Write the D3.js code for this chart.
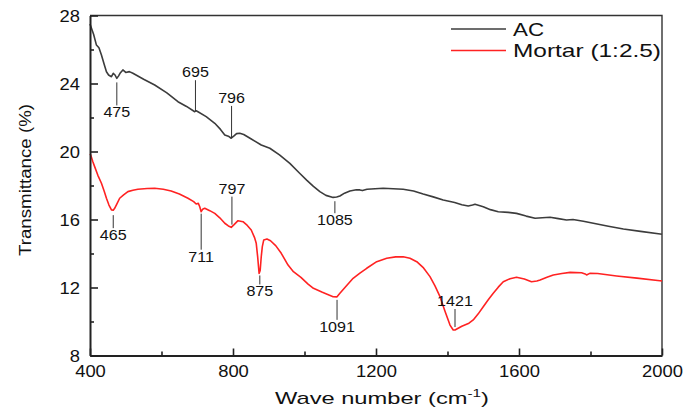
<!DOCTYPE html>
<html>
<head>
<meta charset="utf-8">
<script src="https://cdn.jsdelivr.net/npm/d3@7"></script>
<style>
  body { margin: 0; background: #fff; }
  svg { display: block; font-family: "Liberation Sans", Arial, sans-serif; }
</style>
</head>
<body>
<div id="chart"></div>
<script>
// FTIR spectra
var waveAC = [400,410,418,425,432,440,446,452,460,465,470,475,480,484,492,500,510,520,550,581,615,646,670,693,697,702,725,749,765,777,787,795,802,810,819,830,850,879,903,930,959,985,1006,1025,1043,1060,1080,1090,1099,1112,1127,1145,1155,1162,1175,1220,1276,1305,1332,1360,1388,1420,1440,1458,1470,1477,1500,1520,1542,1570,1593,1620,1645,1665,1687,1710,1733,1751,1780,1808,1850,1892,1940,1995,2000];
var transAC = [27.5,26.9,26.26,26.1,25.68,25.1,24.69,24.5,24.4,24.6,24.5,24.3,24.45,24.6,24.8,24.65,24.7,24.6,24.25,23.91,23.45,22.93,22.65,22.34,22.4,22.34,22.05,21.66,21.3,20.97,20.9,20.78,20.9,21.05,21.07,21.0,20.75,20.38,20.19,19.8,19.3,18.75,18.32,17.95,17.64,17.42,17.3,17.32,17.38,17.55,17.68,17.75,17.74,17.7,17.78,17.84,17.78,17.68,17.5,17.33,17.15,17.0,16.87,16.79,16.85,16.9,16.75,16.58,16.46,16.42,16.36,16.2,16.07,16.1,16.13,16.05,15.97,16.0,15.9,15.78,15.6,15.44,15.3,15.15,15.13];

var waveMortar = [400,402,408,413,422,432,440,446,453,460,465,469,476,483,494,506,520,534,560,581,605,627,650,674,690,697,703,707,711,715,721,735,749,763,777,787,795,803,814,828,840,851,860,865,869,873,876,879,882,886,895,905,920,935,954,969,990,1010,1025,1050,1070,1080,1091,1099,1115,1136,1155,1174,1202,1230,1255,1276,1295,1314,1333,1351,1365,1379,1393,1407,1416,1421,1440,1460,1472,1486,1500,1514,1528,1542,1556,1575,1593,1615,1635,1650,1659,1680,1696,1720,1743,1775,1785,1789,1798,1820,1873,1930,1994,2000];
var transMortar = [19.85,19.79,19.4,19.11,18.6,18.13,17.65,17.25,16.85,16.56,16.55,16.66,16.95,17.25,17.45,17.64,17.72,17.78,17.82,17.84,17.78,17.68,17.5,17.25,17.05,16.91,16.95,16.75,16.46,16.6,16.66,16.52,16.36,16.1,15.78,15.62,15.54,15.7,15.93,15.87,15.65,15.38,14.95,14.6,13.8,12.83,13.0,13.81,14.4,14.8,14.85,14.75,14.45,14.01,13.32,12.93,12.6,12.2,11.95,11.72,11.55,11.46,11.45,11.66,12.05,12.54,12.85,13.13,13.52,13.72,13.8,13.81,13.72,13.52,13.15,12.64,12.1,11.46,10.6,9.79,9.5,9.5,9.72,9.9,10.09,10.45,10.87,11.28,11.66,12.02,12.34,12.52,12.6,12.5,12.34,12.38,12.44,12.62,12.74,12.82,12.89,12.87,12.8,12.74,12.83,12.82,12.68,12.55,12.4,12.39];

var seriesNames = ["AC", "Mortar (1:2.5)"];
var xTicks = [400, 800, 1200, 1600, 2000];
var xMinor = [600, 1000, 1400, 1800];
var yTicks = [8, 12, 16, 20, 24, 28];
var yMinor = [10, 14, 18, 22, 26];

// peak labels: which series, wavenumber, label above or below
var peakSeries = [0, 0, 0, 0, 1, 1, 1, 1, 1, 1];
var peakWave   = [475, 695, 796, 1085, 465, 711, 797, 875, 1091, 1421];
var peakSide   = ["below","above","above","below","below","below","above","below","below","above"];
// leader line gap and length in px (layout only)
var peakGap    = [4, 0, 0, 4, 5, 2, 2, 4, 3, 3];
var peakLen    = [23, 31, 32, 12, 13, 36, 28, 9, 20, 18];

var W = 684, H = 409;
var margin = {left: 90, right: 22, top: 15.5, bottom: 53.5};
var colors = ["#3c3c3c", "#ff2222"];
var stretch = 1.15;

var svg = d3.select("#chart").append("svg")
    .attr("width", W).attr("height", H);

var x = d3.scaleLinear().domain([400, 2000]).range([margin.left, W - margin.right]);
var y = d3.scaleLinear().domain([8, 28]).range([H - margin.bottom, margin.top]);

var waves = [waveAC, waveMortar];
var trans = [transAC, transMortar];

// frame (top and right)
svg.append("path")
    .attr("d", "M" + x(400) + "," + y(28) + "H" + x(2000) + "V" + y(8))
    .attr("fill", "none").attr("stroke", "#333").attr("stroke-width", 1.4);

// spectra
var line = d3.line()
    .x(function(d){ return x(d[0]); })
    .y(function(d){ return y(d[1]); });

waves.forEach(function(wv, s){
    svg.append("path")
        .datum(d3.zip(wv, trans[s]))
        .attr("fill", "none")
        .attr("stroke", colors[s])
        .attr("stroke-width", 1.6)
        .attr("stroke-linejoin", "round")
        .attr("d", line);
});

// axes
var xAxis = svg.append("g")
    .attr("transform", "translate(0," + y(8) + ")")
    .call(d3.axisBottom(x).tickValues(xTicks).tickFormat(d3.format("d"))
        .tickSizeInner(-7).tickSizeOuter(0).tickPadding(0));
svg.append("g")
    .attr("transform", "translate(0," + y(8) + ")")
    .call(d3.axisBottom(x).tickValues(xMinor).tickSizeInner(-4).tickSizeOuter(0).tickFormat(""))
    .select(".domain").remove();

var yAxis = svg.append("g")
    .attr("transform", "translate(" + x(400) + ",0)")
    .call(d3.axisLeft(y).tickValues(yTicks).tickSizeInner(-8).tickSizeOuter(0));
svg.append("g")
    .attr("transform", "translate(" + x(400) + ",0)")
    .call(d3.axisLeft(y).tickValues(yMinor).tickSizeInner(-4).tickSizeOuter(0).tickFormat(""))
    .select(".domain").remove();

svg.selectAll(".domain").attr("stroke", "#222").attr("stroke-width", 2);
svg.selectAll(".tick line").attr("stroke", "#222").attr("stroke-width", 1.6);

xAxis.selectAll(".tick text")
    .attr("y", null).attr("dy", null)
    .attr("font-size", 16).attr("fill", "#111")
    .attr("transform", "translate(0,21) scale(" + stretch + ",1)");
yAxis.selectAll(".tick text")
    .attr("x", null).attr("dy", "0.35em")
    .attr("font-size", 16).attr("fill", "#111")
    .attr("transform", "translate(-10,0) scale(" + stretch + ",1)");

// axis titles
svg.append("text")
    .attr("x", 382).attr("y", 404)
    .attr("text-anchor", "middle")
    .attr("font-size", 17).attr("fill", "#111")
    .attr("textLength", 214).attr("lengthAdjust", "spacingAndGlyphs")
    .html('Wave number (cm<tspan dy="-7" font-size="11">-1</tspan><tspan dy="7">)</tspan>');

svg.append("text")
    .attr("transform", "translate(31,180) rotate(-90)")
    .attr("text-anchor", "middle")
    .attr("font-size", 17).attr("fill", "#111")
    .attr("textLength", 152).attr("lengthAdjust", "spacingAndGlyphs")
    .text("Transmittance (%)");

// legend
var legendLen = [31, 148];
seriesNames.forEach(function(name, s){
    var ly = 29 + s * 21.5;
    svg.append("line")
        .attr("x1", 451).attr("x2", 506)
        .attr("y1", ly).attr("y2", ly)
        .attr("stroke", colors[s]).attr("stroke-width", 1.6);
    svg.append("text")
        .attr("x", 513).attr("y", ly + 6.5)
        .attr("font-size", 18.5).attr("fill", "#111")
        .attr("textLength", legendLen[s]).attr("lengthAdjust", "spacingAndGlyphs")
        .text(name);
});

// peak annotations
function valueAt(s, w) {
    var wv = waves[s], tv = trans[s];
    var i = d3.bisectLeft(wv, w);
    if (i <= 0) return tv[0];
    if (i >= wv.length) return tv[tv.length - 1];
    var t = (w - wv[i - 1]) / (wv[i] - wv[i - 1]);
    return tv[i - 1] + t * (tv[i] - tv[i - 1]);
}

peakWave.forEach(function(w, k){
    var s = peakSeries[k];
    var px = x(w), py = y(valueAt(s, w));
    var dir = peakSide[k] === "below" ? 1 : -1;
    var y1 = py + dir * peakGap[k], y2 = y1 + dir * peakLen[k];
    svg.append("line")
        .attr("x1", px).attr("x2", px)
        .attr("y1", y1).attr("y2", y2)
        .attr("stroke", "#333").attr("stroke-width", 1);
    var ty = dir > 0 ? y2 + 12 : y2 - 3;
    svg.append("text")
        .attr("transform", "translate(" + px + "," + ty + ") scale(" + stretch + ",1)")
        .attr("text-anchor", "middle")
        .attr("font-size", 14).attr("fill", "#111")
        .text(w);
});
</script>
</body>
</html>
